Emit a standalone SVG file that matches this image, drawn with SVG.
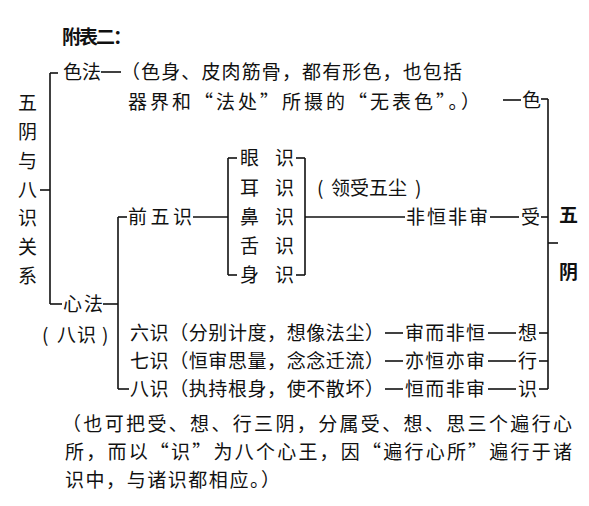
<svg xmlns="http://www.w3.org/2000/svg" width="589" height="506" viewBox="0 0 589 506">
<style>
text{font-family:"Noto Sans CJK SC","Noto Sans CJK TC",sans-serif;font-size:19px;fill:#111}
.b{font-weight:bold}
.c line{stroke:#111;stroke-width:1.6;fill:none}
</style>
<rect width="589" height="506" fill="#fff"/>
<g id="title"><text class="b" x="62" y="44" font-size="20" textLength="70" lengthAdjust="spacing">附表二：</text></g>
<g id="n-root">
<text x="18" y="110">五</text><text x="18" y="139">阴</text><text x="18" y="168">与</text><text x="18" y="197">八</text><text x="18" y="225">识</text><text x="18" y="254">关</text><text x="18" y="283">系</text>
</g>
<g id="n-sefa"><text x="63" y="79" textLength="38" lengthAdjust="spacing">色法</text></g>
<g id="n-sefa-note">
<text x="121" y="79" textLength="341" lengthAdjust="spacing">（色身、皮肉筋骨，都有形色，也包括</text>
<text x="128" y="109" textLength="352" lengthAdjust="spacing">器界和“法处”所摄的“无表色”。）</text>
</g>
<g id="n-se"><text x="522" y="107">色</text></g>
<g id="n-xinfa"><text x="63" y="311" textLength="40" lengthAdjust="spacing">心法</text><text x="42 57 77 102" y="342">(八识)</text></g>
<g id="n-qianwu"><text x="128" y="224" textLength="64" lengthAdjust="spacing">前五识</text></g>
<g id="n-five">
<text x="240" y="165">眼</text><text x="275" y="165">识</text>
<text x="240" y="195">耳</text><text x="275" y="195">识</text>
<text x="240" y="224">鼻</text><text x="275" y="224">识</text>
<text x="240" y="253">舌</text><text x="275" y="253">识</text>
<text x="240" y="282">身</text><text x="275" y="282">识</text>
</g>
<g id="n-lingshou"><text x="317 331 350 369 388 415" y="195">(领受五尘)</text></g>
<g id="n-feiheng"><text x="406" y="224" textLength="82" lengthAdjust="spacing">非恒非审</text></g>
<g id="n-shou"><text x="521" y="224">受</text></g>
<g id="n-wuyin"><text class="b" x="559" y="222" font-size="17">五</text><text class="b" x="559" y="279" font-size="17">阴</text></g>
<g id="n-six"><text x="130" y="340" textLength="254" lengthAdjust="spacing">六识（分别计度，想像法尘）</text><text x="405" y="340" textLength="80" lengthAdjust="spacing">审而非恒</text><text x="518" y="340">想</text></g>
<g id="n-seven"><text x="130" y="368" textLength="254" lengthAdjust="spacing">七识（恒审思量，念念迁流）</text><text x="405" y="368" textLength="80" lengthAdjust="spacing">亦恒亦审</text><text x="518" y="368">行</text></g>
<g id="n-eight"><text x="130" y="396" textLength="254" lengthAdjust="spacing">八识（执持根身，使不散坏）</text><text x="405" y="396" textLength="80" lengthAdjust="spacing">恒而非审</text><text x="518" y="396">识</text></g>
<g id="note">
<text x="62" y="431" textLength="510" lengthAdjust="spacing">（也可把受、想、行三阴，分属受、想、思三个遍行心</text>
<text x="65" y="459" textLength="507" lengthAdjust="spacing">所，而以“识”为八个心王，因“遍行心所”遍行于诸</text>
<text x="65" y="487" textLength="215" lengthAdjust="spacing">识中，与诸识都相应。）</text>
</g>
<g id="connectors" class="c">
<line x1="50" y1="73" x2="50" y2="304"/>
<line x1="50" y1="73" x2="58" y2="73"/>
<line x1="50" y1="304" x2="62" y2="304"/>
<line x1="40" y1="190" x2="50" y2="190"/>
<line x1="101" y1="72" x2="121" y2="72"/>
<line x1="103" y1="304" x2="118" y2="304"/>
<line x1="118" y1="217" x2="118" y2="389"/>
<line x1="118" y1="217" x2="127" y2="217"/>
<line x1="118" y1="389" x2="129" y2="389"/>
<line x1="193" y1="217" x2="228" y2="217"/>
<line x1="228" y1="158" x2="228" y2="275"/>
<line x1="228" y1="158" x2="237" y2="158"/>
<line x1="228" y1="275" x2="237" y2="275"/>
<line x1="305" y1="158" x2="305" y2="275"/>
<line x1="296" y1="158" x2="305" y2="158"/>
<line x1="296" y1="275" x2="305" y2="275"/>
<line x1="305" y1="217" x2="405" y2="217"/>
<line x1="490" y1="217" x2="519" y2="217"/>
<line x1="541" y1="217" x2="548" y2="217"/>
<line x1="503" y1="100" x2="521" y2="100"/>
<line x1="541" y1="99" x2="548" y2="99"/>
<line x1="548" y1="99" x2="548" y2="389"/>
<line x1="548" y1="243" x2="558" y2="243"/>
<line x1="385" y1="333" x2="403" y2="333"/>
<line x1="488" y1="333" x2="516" y2="333"/>
<line x1="539" y1="333" x2="548" y2="333"/>
<line x1="385" y1="361" x2="403" y2="361"/>
<line x1="488" y1="361" x2="516" y2="361"/>
<line x1="539" y1="361" x2="548" y2="361"/>
<line x1="385" y1="389" x2="403" y2="389"/>
<line x1="488" y1="389" x2="516" y2="389"/>
<line x1="539" y1="389" x2="548" y2="389"/>
</g>
</svg>
